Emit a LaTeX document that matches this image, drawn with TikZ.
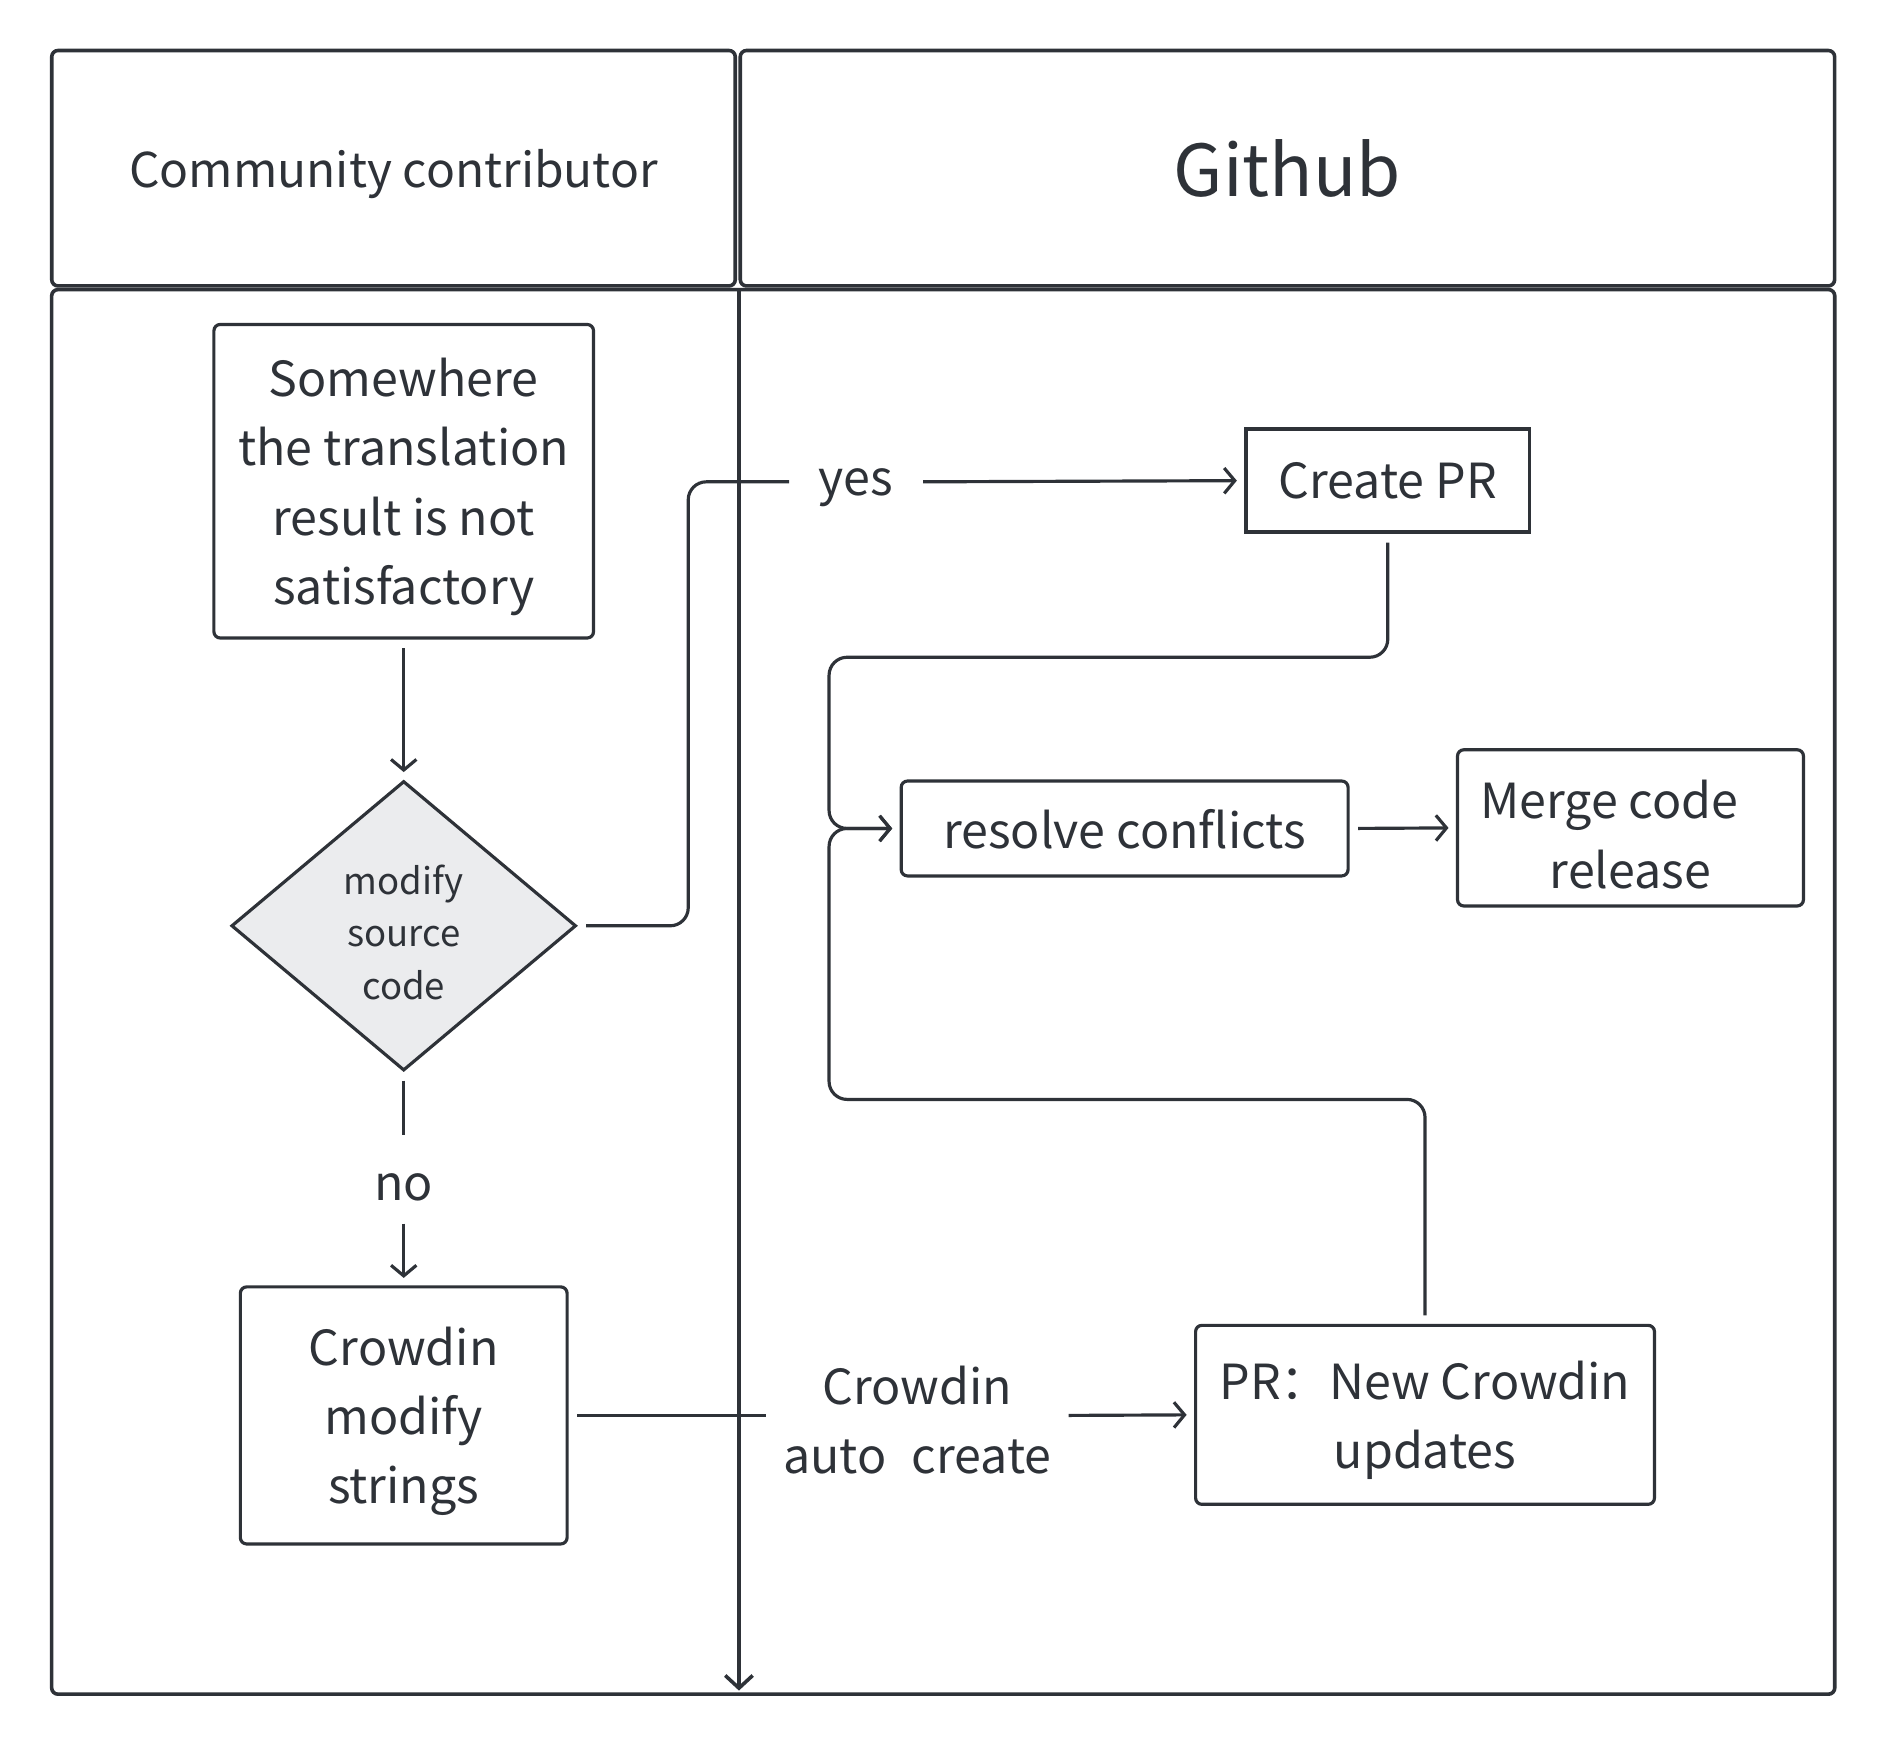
\documentclass[tikz,border=0pt]{standalone}
\usepackage{fontspec}
\setmainfont{Noto Sans CJK SC}
\usetikzlibrary{arrows.meta,shapes.geometric}
\definecolor{ink}{HTML}{2E3238}
\definecolor{gatefill}{HTML}{EBECEE}
\tikzset{
  lane/.style={draw=ink, line width=1.7pt, rounded corners=3pt, text=ink, inner sep=0pt, text depth=0pt},
  stepbox/.style={draw=ink, line width=1.5pt, rounded corners=3pt, text=ink, align=center, inner sep=0pt, text depth=0pt, font=\fontsize{22.9}{32.8}\selectfont},
  gate/.style={diamond, draw=ink, fill=gatefill, line width=1.5pt, text=ink, align=center, inner sep=0pt, text height=70pt, text depth=0pt, font=\fontsize{17.3}{25}\selectfont},
  tag/.style={text=ink, align=center, inner sep=0pt, font=\fontsize{22.9}{32.8}\selectfont},
  link/.style={draw=ink, line width=1.5pt, shorten <=4pt},
  flow/.style={link, -{Straight Barb[length=5pt,width=12pt]}, shorten >=3.5pt}
}

\begin{document}
\begin{tikzpicture}[x=0.02cm, y=-0.02cm]
    \useasboundingbox (0,0) rectangle (1568,1465);
    \node[lane, minimum width=11.38cm, minimum height=3.92cm, font=\fontsize{22.7}{30}\selectfont] (who) at (327.5,140) {Community contributor};
    \node[lane, minimum width=18.22cm, minimum height=3.92cm, font=\fontsize{33.9}{40}\selectfont] (hub) at (1071.5,140) {Github};
    \draw[lane] (43,241) rectangle (1527,1410);
    \draw[draw=ink, line width=1.7pt, -{Straight Barb[length=6pt,width=13pt]}] (615,241) -- (615,1407);

    \node[stepbox, minimum width=6.32cm, minimum height=5.22cm] (issue) at (336,400.5) {Somewhere\\the translation\\result is not\\satisfactory};
    \node[gate, minimum width=5.74cm, minimum height=4.82cm] (modsrc) at (336,770.5) {modify\\source\\code};
    \node[stepbox, minimum width=5.44cm, minimum height=4.28cm] (crowdin) at (336,1178) {Crowdin\\modify\\strings};
    \node[stepbox, rounded corners=0pt, line width=1.7pt, minimum width=4.72cm, minimum height=1.72cm] (cpr) at (1155,400) {Create PR};
    \node[stepbox, minimum width=7.44cm, minimum height=1.58cm] (resolve) at (936,689.5) {resolve conflicts};
    \node[stepbox, text height=57pt, minimum width=5.76cm, minimum height=2.6cm] (merge) at (1357,689) {Merge code\hspace*{20pt}\\release};
    \node[stepbox, minimum width=7.64cm, minimum height=2.98cm] (prnew) at (1186,1177.5) {PR：New Crowdin\\updates};
    \node[tag, text depth=0pt, minimum width=2.22cm, minimum height=1cm] (yes) at (712.5,401) {yes};
    \node[tag, text height=20pt, text depth=0pt, minimum height=1.46cm] (no) at (336,981.5) {no};
    \node[tag, minimum width=5.02cm] (auto) at (763.5,1182) {Crowdin\\auto\hspace{12pt}create};

    \draw[flow] (issue.south) -- (modsrc.north);
    \draw[link, rounded corners=0.3cm] (modsrc.east) -- ++(92,0) |- (yes.west);
    \draw[flow, shorten <=0pt] (yes.east) -- (cpr.west);
    \draw[flow, rounded corners=0.3cm] (cpr.south) |- (690,547) |- (resolve.west);
    \draw[flow] (resolve.east) -- (merge.west);
    \draw[link] (modsrc.south) -- (no.north);
    \draw[flow, shorten <=0pt] (no.south) -- (crowdin.north);
    \draw[link] (crowdin.east) -- (crowdin.east -| auto.west);
    \draw[flow, shorten <=0pt] (crowdin.east -| auto.east) -- (prnew.west);
    \draw[flow, rounded corners=0.3cm] (prnew.north) |- (690,915) |- (resolve.west);
  \end{tikzpicture}
\end{document}
